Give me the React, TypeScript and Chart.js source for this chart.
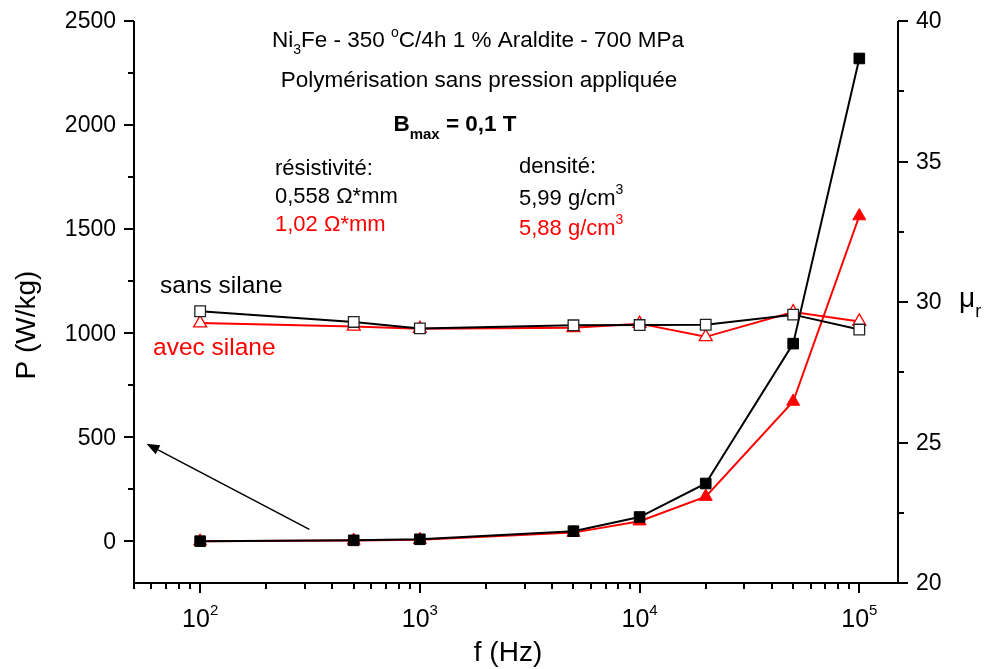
import React, { useEffect, useRef } from "react";
import { Chart, registerables } from "chart.js";

Chart.register(...registerables);

// ---- data ----
const freqs = [100, 500, 1000, 5000, 10000, 20000, 50000, 100000];
const pSansSilane = [1, 5, 10, 49, 117, 278, 950, 2320];
const pAvecSilane = [1, 4, 8, 42, 97, 215, 672, 1563];
const muSansSilane = [29.67, 29.29, 29.06, 29.17, 29.18, 29.19, 29.55, 29.02];
const muAvecSilane = [29.25, 29.13, 29.05, 29.08, 29.23, 28.76, 29.64, 29.31];

// ---- axes / ticks ----
const xMin = 50;
const xMax = 150000;
const xMajorTicks = [100, 1000, 10000, 100000];
const xMajorExp = ["2", "3", "4", "5"];
const xMinorTicks = [
  50, 60, 70, 80, 90,
  200, 300, 400, 500, 600, 700, 800, 900,
  2000, 3000, 4000, 5000, 6000, 7000, 8000, 9000,
  20000, 30000, 40000, 50000, 60000, 70000, 80000, 90000,
];
const yLeftMin = -200;
const yLeftMax = 2500;
const yLeftMajor = [0, 500, 1000, 1500, 2000, 2500];
const yLeftMinor = [250, 750, 1250, 1750, 2250];
const yRightMin = 20;
const yRightMax = 40;
const yRightMajor = [20, 25, 30, 35, 40];
const yRightMinor = [22.5, 27.5, 32.5, 37.5];

// arrow annotation in data coordinates (x: Hz, y: W/kg)
const arrowTail = { x: 314, y: 58 };
const arrowHead = { x: 57, y: 469 };

const FONT = "'Liberation Sans', Arial, sans-serif";
const RED = "#ff0000";

type Seg = { t: string; size: number; dy?: number; bold?: boolean; color?: string };

function drawRich(
  ctx: CanvasRenderingContext2D,
  segs: Seg[],
  x: number,
  y: number,
  align: "left" | "center",
  color: string
) {
  const fontOf = (s: Seg) => `${s.bold ? "bold " : ""}${s.size}px ${FONT}`;
  let w = 0;
  for (const s of segs) {
    ctx.font = fontOf(s);
    w += ctx.measureText(s.t).width;
  }
  let cx = align === "center" ? x - w / 2 : x;
  ctx.textAlign = "left";
  ctx.textBaseline = "alphabetic";
  for (const s of segs) {
    ctx.font = fontOf(s);
    ctx.fillStyle = s.color || color;
    ctx.fillText(s.t, cx, y + (s.dy || 0));
    cx += ctx.measureText(s.t).width;
  }
}

const decorPlugin = {
  id: "decor",
  afterDraw(chart: any) {
    const ctx: CanvasRenderingContext2D = chart.ctx;
    const { left, right, top, bottom } = chart.chartArea;
    const xs = chart.scales.x;
    const yl = chart.scales.y;
    const yr = chart.scales.y1;
    ctx.save();
    ctx.strokeStyle = "#000";
    ctx.fillStyle = "#000";
    ctx.lineWidth = 2;
    ctx.lineCap = "butt";

    // axis lines (left, bottom, right)
    ctx.beginPath();
    ctx.moveTo(left, top);
    ctx.lineTo(left, bottom);
    ctx.lineTo(right, bottom);
    ctx.lineTo(right, top);
    ctx.stroke();

    const MAJ = 10;
    const MIN = 6;
    ctx.beginPath();
    for (const v of yLeftMajor) {
      const p = Math.round(yl.getPixelForValue(v));
      ctx.moveTo(left - MAJ, p);
      ctx.lineTo(left, p);
    }
    for (const v of yLeftMinor) {
      const p = Math.round(yl.getPixelForValue(v));
      ctx.moveTo(left - MIN, p);
      ctx.lineTo(left, p);
    }
    for (const v of yRightMajor) {
      const p = Math.round(yr.getPixelForValue(v));
      ctx.moveTo(right, p);
      ctx.lineTo(right + MAJ, p);
    }
    for (const v of yRightMinor) {
      const p = Math.round(yr.getPixelForValue(v));
      ctx.moveTo(right, p);
      ctx.lineTo(right + MIN, p);
    }
    for (const v of xMajorTicks) {
      const p = Math.round(xs.getPixelForValue(v));
      ctx.moveTo(p, bottom);
      ctx.lineTo(p, bottom + MAJ);
    }
    for (const v of xMinorTicks) {
      const p = Math.round(xs.getPixelForValue(v));
      ctx.moveTo(p, bottom);
      ctx.lineTo(p, bottom + MIN);
    }
    ctx.stroke();

    // tick labels
    ctx.font = `23px ${FONT}`;
    ctx.fillStyle = "#000";
    ctx.textBaseline = "middle";
    ctx.textAlign = "right";
    for (const v of yLeftMajor) {
      ctx.fillText(String(v), left - 18, yl.getPixelForValue(v) + 1);
    }
    ctx.textAlign = "left";
    for (const v of yRightMajor) {
      ctx.fillText(String(v), right + 18, yr.getPixelForValue(v) + 1);
    }
    xMajorTicks.forEach((v, i) => {
      const p = xs.getPixelForValue(v);
      drawRich(
        ctx,
        [
          { t: "10", size: 25 },
          { t: xMajorExp[i], size: 15, dy: -12 },
        ],
        p,
        bottom + 44,
        "center",
        "#000"
      );
    });

    // axis titles
    ctx.font = `28px ${FONT}`;
    ctx.textAlign = "center";
    ctx.textBaseline = "alphabetic";
    ctx.fillText("f (Hz)", 508, 661);
    ctx.save();
    ctx.translate(35, 325);
    ctx.rotate(-Math.PI / 2);
    ctx.fillText("P (W/kg)", 0, 0);
    ctx.restore();
    drawRich(
      ctx,
      [
        { t: "\u03bc", size: 28 },
        { t: "r", size: 18, dy: 10 },
      ],
      right + 61,
      307,
      "left",
      "#000"
    );

    // annotation texts
    const TS = 22.5;
    drawRich(
      ctx,
      [
        { t: "Ni", size: TS },
        { t: "3", size: 14, dy: 7 },
        { t: "Fe - 350 ", size: TS },
        { t: "o", size: 14, dy: -10 },
        { t: "C/4h 1 % Araldite - 700 MPa", size: TS },
      ],
      478,
      47,
      "center",
      "#000"
    );
    drawRich(ctx, [{ t: "Polymérisation sans pression appliquée", size: TS }], 479, 87, "center", "#000");
    drawRich(
      ctx,
      [
        { t: "B", size: TS, bold: true },
        { t: "max", size: 15, bold: true, dy: 8 },
        { t: " = 0,1 T", size: TS, bold: true },
      ],
      455,
      131,
      "center",
      "#000"
    );
    const RS = 22;
    drawRich(ctx, [{ t: "résistivité:", size: RS }], 275, 175, "left", "#000");
    drawRich(ctx, [{ t: "0,558 \u03a9*mm", size: RS }], 275, 203, "left", "#000");
    drawRich(ctx, [{ t: "1,02 \u03a9*mm", size: RS }], 275, 231, "left", RED);
    drawRich(ctx, [{ t: "densité:", size: RS }], 519, 173, "left", "#000");
    drawRich(
      ctx,
      [
        { t: "5,99 g/cm", size: RS },
        { t: "3", size: 14, dy: -11 },
      ],
      519,
      205,
      "left",
      "#000"
    );
    drawRich(
      ctx,
      [
        { t: "5,88 g/cm", size: RS },
        { t: "3", size: 14, dy: -11 },
      ],
      519,
      235,
      "left",
      RED
    );
    drawRich(ctx, [{ t: "sans silane", size: 24.5 }], 160, 293, "left", "#000");
    drawRich(ctx, [{ t: "avec silane", size: 24.5 }], 153, 355, "left", RED);

    // arrow
    const tx = xs.getPixelForValue(arrowTail.x);
    const ty = yl.getPixelForValue(arrowTail.y);
    const hx = xs.getPixelForValue(arrowHead.x);
    const hy = yl.getPixelForValue(arrowHead.y);
    const ang = Math.atan2(hy - ty, hx - tx);
    const L = 13;
    const W = 5;
    const bx = hx - L * Math.cos(ang);
    const by = hy - L * Math.sin(ang);
    ctx.strokeStyle = "#000";
    ctx.lineWidth = 1.5;
    ctx.beginPath();
    ctx.moveTo(tx, ty);
    ctx.lineTo(bx, by);
    ctx.stroke();
    ctx.fillStyle = "#000";
    ctx.beginPath();
    ctx.moveTo(hx, hy);
    ctx.lineTo(bx + W * Math.sin(ang), by - W * Math.cos(ang));
    ctx.lineTo(bx - W * Math.sin(ang), by + W * Math.cos(ang));
    ctx.closePath();
    ctx.fill();

    ctx.restore();
  },
};

export default function App() {
  const ref = useRef<HTMLCanvasElement | null>(null);
  useEffect(() => {
    if (!ref.current) return;
    const mk = (vals: number[]) => freqs.map((f, i) => ({ x: f, y: vals[i] }));
    const chart = new Chart(ref.current, {
      type: "line",
      data: {
        datasets: [
          {
            label: "P sans silane",
            data: mk(pSansSilane),
            yAxisID: "y",
            borderColor: "#000",
            backgroundColor: "#000",
            borderWidth: 2,
            pointStyle: "rect",
            pointRadius: 7.5,
            pointBorderWidth: 1,
            pointBackgroundColor: "#000",
            pointBorderColor: "#000",
          },
          {
            label: "mu sans silane",
            data: mk(muSansSilane),
            yAxisID: "y1",
            borderColor: "#000",
            backgroundColor: "#fff",
            borderWidth: 2,
            pointStyle: "rect",
            pointRadius: 7.5,
            pointBorderWidth: 1.3,
            pointBackgroundColor: "#fff",
            pointBorderColor: "#222",
          },
          {
            label: "P avec silane",
            data: mk(pAvecSilane),
            yAxisID: "y",
            borderColor: RED,
            backgroundColor: RED,
            borderWidth: 2,
            pointStyle: "triangle",
            pointRadius: 7.5,
            pointBorderWidth: 1,
            pointBackgroundColor: RED,
            pointBorderColor: RED,
          },
          {
            label: "mu avec silane",
            data: mk(muAvecSilane),
            yAxisID: "y1",
            borderColor: RED,
            backgroundColor: "#fff",
            borderWidth: 2,
            pointStyle: "triangle",
            pointRadius: 7.5,
            pointBorderWidth: 1.3,
            pointBackgroundColor: "#fff",
            pointBorderColor: RED,
          },
        ],
      },
      options: {
        responsive: false,
        animation: false,
        devicePixelRatio: 1,
        events: [],
        layout: { padding: { left: 134, right: 86, top: 21, bottom: 86 } },
        plugins: { legend: { display: false }, tooltip: { enabled: false } },
        elements: { line: { tension: 0 } },
        scales: {
          x: { type: "logarithmic", min: xMin, max: xMax, display: false },
          y: { type: "linear", position: "left", min: yLeftMin, max: yLeftMax, display: false },
          y1: { type: "linear", position: "right", min: yRightMin, max: yRightMax, display: false },
        },
      } as any,
      plugins: [decorPlugin],
    });
    return () => chart.destroy();
  }, []);
  return (
    <div style={{ position: "absolute", left: 0, top: 0, width: 984, height: 669, background: "#fff" }}>
      <canvas ref={ref} width={984} height={669} style={{ display: "block" }} />
    </div>
  );
}
